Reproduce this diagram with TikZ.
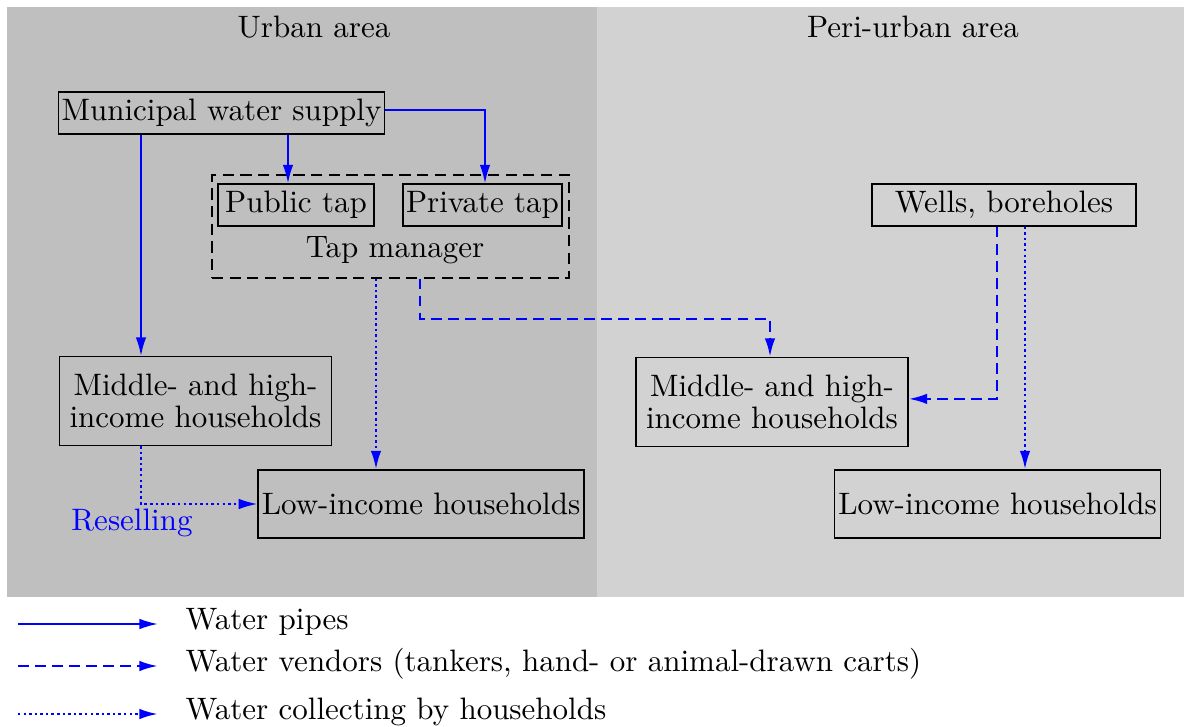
\documentclass[tikz,border=0pt]{standalone}
\usetikzlibrary{arrows.meta}

\tikzset{
  box/.style={draw, inner sep=1pt, minimum height=13.55pt},
  hh/.style={box, align=center, minimum width=87.7pt, minimum height=28.7pt, font=\fontsize{10pt}{10.3pt}\selectfont},
  low/.style={box, minimum width=105.2pt, minimum height=21.9pt},
  pipe/.style={blue, semithick, -{Latex[length=6pt,width=3.4pt]}},
  vendor/.style={blue, thick, dash pattern=on 3.5pt off 2pt, -{Latex[length=6pt,width=3.4pt]}},
  collect/.style={blue, thick, densely dotted, -{Latex[length=6pt,width=3.4pt]}},
}

\begin{document}
\begin{tikzpicture}[x=0.3226pt, y=-0.3226pt] % Pixelraster, y nach unten
\useasboundingbox (0,0) rectangle (1184,727);

% Gebiete
\fill[gray!50] (7,7) rectangle (597,597);
\fill[gray!35] (597,7) rectangle (1184,597);
\node (urban) at (314,27) {Urban area};
\node (peri) at (913,27) {Peri-urban area};

% Knoten
\node[box, minimum width=104.2pt] (mws) at (221.5,113) {Municipal water supply};
\node[draw, dash pattern=on 3.6pt off 2.1pt, minimum width=115.2pt, minimum height=33.2pt] (tm) at (390.5,226.5) {};
\node[box, minimum width=50.3pt] (public) at (296,205) {Public tap};
\node[box, minimum width=50.6pt] (private) at (482.5,205) {Private tap};
\node (tmtext) at (395,250) {Tap manager};
\node[box, minimum width=85.2pt] (wells) at (1004,205) {Wells, boreholes};
\node[hh] (mhu) at (195.5,401) {Middle- and high-\\income households};
\node[hh] (mhp) at (772,402) {Middle- and high-\\income households};
\node[low] (lowu) at (421,504) {Low-income households};
\node[low] (lowp) at (997.5,504) {Low-income households};
\node[blue] (resell) at (132,523) {Reselling};

% Hilfskoordinaten fuer die Leitungen
\coordinate (xa) at (141,0);
\coordinate (xb) at (288,0);
\coordinate (xc) at (485,0);
\coordinate (xd) at (376,0);
\coordinate (xe) at (420,0);
\coordinate (xf) at (770,0);
\coordinate (xg) at (997,0);
\coordinate (xh) at (1025,0);
\coordinate (ya) at (0,319);

% Verbindungen
\draw[pipe] (xa |- mws.south) -- (xa |- mhu.north);
\draw[pipe] (xb |- mws.south) -- (xb |- public.north);
\draw[pipe] ([yshift=1pt]mws.east) -| (xc |- private.north);
\draw[collect] (xd |- tm.south) -- (xd |- lowu.north);
\draw[vendor] (xe |- tm.south) |- (ya -| xf) -- (xf |- mhp.north);
\draw[vendor] (xg |- wells.south) |- ([yshift=1pt]mhp.east);
\draw[collect] (xh |- wells.south) -- (xh |- lowp.north);
\draw[collect, semithick] (xa |- mhu.south) |- (lowu.west); % Weiterverkauf

% Legende
\foreach \st/\y/\txt [count=\i] in {pipe/624/Water pipes, vendor/666/{Water vendors (tankers, hand- or animal-drawn carts)}, collect/714/Water collecting by households} {
  \coordinate (la\i) at (18,\y);
  \coordinate (lb\i) at (158,\y);
  \node[anchor=west, inner sep=0pt] (lt\i) at (185,\y-2.5) {\txt};
  \draw[\st] (la\i) -- (lb\i);
}

\end{tikzpicture}
\end{document}
